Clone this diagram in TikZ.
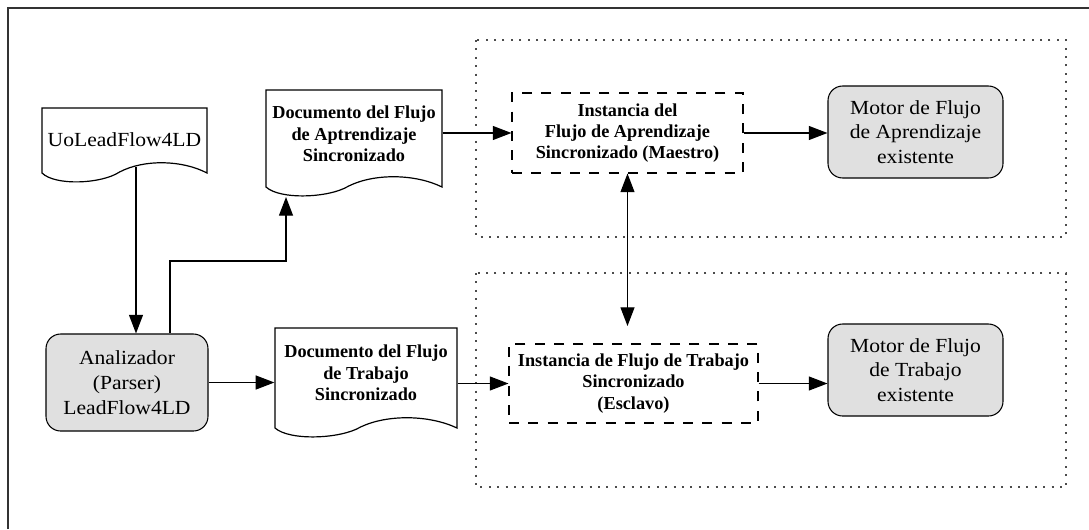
\documentclass[tikz,border=0pt]{standalone}
\usepackage{fontspec}
\setmainfont{Liberation Serif}
\newfontfamily\regfont[FakeStretch=1.08]{Liberation Serif}
\usetikzlibrary{arrows.meta}
\newcommand\docshape[4]{%
  \pgfmathsetmacro\dw{#3-#1}%
  \draw[docline] (#1,#2) -- (#3,#2) -- (#3,#4)
    .. controls ({#3-0.15*\dw},{#4-13}) and ({#1+0.62*\dw},{#4-14}) .. ({#1+0.47*\dw},{#4-1})
    .. controls ({#1+0.36*\dw},{#4+11}) and ({#1+0.08*\dw},{#4+13}) .. (#1,#4) -- cycle;}
\begin{document}
\begin{tikzpicture}[x=0.75pt,y=-0.75pt,
  line width=0.9pt,
  arr/.style={-{Triangle[length=14pt,width=10.5pt]}},
  darr/.style={{Triangle[length=14pt,width=10.5pt]}-{Triangle[length=14pt,width=10.5pt]}},
  docline/.style={draw=black,line width=0.9pt},
  doctext/.style={align=center,font=\fontsize{13.7}{16}\selectfont\bfseries,inner sep=0pt},
  plaintext/.style={align=center,font=\regfont\fontsize{15}{18.5}\selectfont,inner sep=0pt},
  inst/.style={draw,line width=0.8pt,dash pattern=on 7.5pt off 7pt,align=center,font=\fontsize{13.7}{16}\selectfont\bfseries,inner sep=0pt},
  engine/.style={draw,line width=0.8pt,rounded corners=11pt,fill=black!12,align=center,font=\regfont\fontsize{15}{18.5}\selectfont,inner sep=0pt},
  region/.style={draw=black!70,line width=1pt,dash pattern=on 1.5pt off 4.8pt},
  frame/.style={draw=black!80,line width=1.1pt}
]
\useasboundingbox (0,0) rectangle (1089,529);
\draw[frame] (8,529) -- (8,8) -- (1089,8);

% dotted regions
\draw[region] (476,40) rectangle (1066,237);
\draw[region] (476,273) rectangle (1066,487);

% document shapes
\docshape{42}{108}{207}{173}
\docshape{266}{90}{442}{187}
\docshape{275}{328}{457}{428}

\node[plaintext,minimum width=123.75pt,minimum height=48pt] (doc1) at (124.5,140) {UoLeadFlow4LD};
\node[doctext,minimum width=132pt,minimum height=65pt] (doc2) at (354,134) {Documento del Flujo\\de Aptrendizaje\\Sincronizado};
\node[doctext,minimum width=136.5pt,minimum height=67pt] (doc3) at (366,373) {Documento del Flujo\\de Trabajo\\Sincronizado};

% rounded boxes
\node[engine,minimum width=121.5pt,minimum height=72.75pt] (ana) at (127,382.5) {Analizador\\(Parser)\\LeadFlow4LD};
\node[engine,minimum width=131.25pt,minimum height=69pt] (mot1) at (915.5,132) {Motor de Flujo\\de Aprendizaje\\existente};
\node[engine,minimum width=131.25pt,minimum height=69pt] (mot2) at (915.5,370) {Motor de Flujo\\de Trabajo\\existente};

% dashed instance boxes
\node[inst,minimum width=173.25pt,minimum height=60pt] (ins1) at (627.5,133) {Instancia del\\Flujo de Aprendizaje\\Sincronizado (Maestro)};
\node[inst,minimum width=186.75pt,minimum height=59.25pt] (ins2) at (633.5,383.5) {Instancia de Flujo de Trabajo\\Sincronizado\\(Esclavo)};

% helper coordinates
\coordinate (d1b) at (136,167);
\coordinate (j1) at (170,261);
\coordinate (d2b) at (286,197);
\coordinate (i2t) at (627.5,326);

% connectors
\draw[arr] (d1b) -- (d1b |- ana.north);
\draw[arr] (ana.north -| j1) -- (j1) -| (d2b);
\draw[arr] (ana.east) -- (ana.east -| doc3.west);
\draw[arr] (doc2.east |- ins1.west) -- (ins1.west);
\draw[arr] (ins1.east) -- (ins1.east -| mot1.west);
\draw[darr] (ins1.south) -- (i2t);
\draw[arr] (ins2.west -| doc3.east) -- (ins2.west);
\draw[arr] (ins2.east) -- (ins2.east -| mot2.west);
\end{tikzpicture}
\end{document}
